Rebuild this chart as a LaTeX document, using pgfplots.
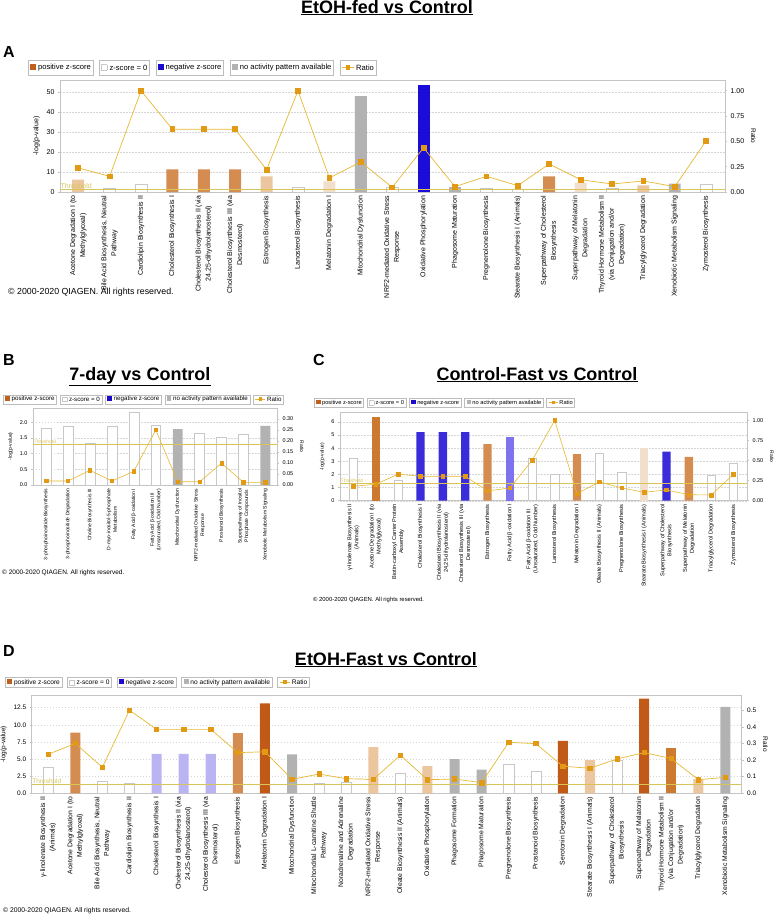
\documentclass[border=0pt]{standalone}
\usepackage{pgfplots}
\pgfplotsset{compat=1.18}
\usepackage{fontspec}
\setmainfont{Liberation Sans}

\definecolor{framec}{HTML}{C4C4C4}
\definecolor{gridc}{HTML}{D6D6D6}
\definecolor{whitebd}{HTML}{C8C8C8}
\definecolor{legbd}{HTML}{BDBDBD}
\definecolor{legpos}{HTML}{C0601E}
\definecolor{legneg}{HTML}{1A0ACC}
\definecolor{posdk}{HTML}{C25A17}
\definecolor{posor}{HTML}{CC7A30}
\definecolor{posmd}{HTML}{D48C50}
\definecolor{poslt}{HTML}{EBC69F}
\definecolor{posvl}{HTML}{F2DFCB}
\definecolor{negdk}{HTML}{1B0CD8}
\definecolor{negmd}{HTML}{3B2CD9}
\definecolor{neglt}{HTML}{7E72EE}
\definecolor{negvl}{HTML}{BAB4F2}
\definecolor{nagray}{HTML}{B2B2B2}
\definecolor{ratioln}{HTML}{E6B832}
\definecolor{ratiomk}{HTML}{E29A14}
\definecolor{thrc}{HTML}{D9C45A}

\setlength{\fboxsep}{0pt}
\setlength{\fboxrule}{0.4pt}

\pgfplotsset{
  ipa common/.style={scale only axis, anchor=south west, ymin=0,
    axis line style={framec, line width=0.5pt},
    tick style={framec, line width=0.5pt}, tick align=outside, major tick length=2pt,
    /pgf/number format/assume math mode=true},
  ipa bars/.style={ipa common, ytick pos=left, xtick pos=bottom,
    xtick style={draw=none},
    ymajorgrids, grid style={gridc, dash pattern=on 1.5pt off 1.5pt, line width=0.4pt},
    xticklabel style={rotate=90, anchor=east, align=center, inner sep=1.5pt},
    ylabel={-log(p-value)}},
  ipa ratio/.style={ipa common, axis x line=none, axis y line*=right,
    ylabel={Ratio}, ylabel style={rotate=180}},
  wbar/.style={ybar, /pgf/bar shift=0pt, fill=white, draw=whitebd, line width=0.5pt},
  cbar/.style={ybar, /pgf/bar shift=0pt, fill=#1, draw=none},
  rline/.style={ratioln, line width=0.7pt, mark=square*, mark size=#1,
    mark options={fill=ratiomk, draw=ratiomk}},
  thr/.style={thrc, line width=0.6pt, forget plot},
}

% legend row: x, y (down), font size, gap, box height
\newcommand{\qlegend}[5]{%
\begin{scope}[every node/.style={draw=legbd, fill=white, line width=0.5pt,
    inner xsep=2pt, inner ysep=0pt, minimum height=#5pt, anchor=west,
    font=\fontsize{#3}{#3}\selectfont}]
\node (L1) at (#1pt,-#2pt) {\textcolor{legpos}{\rule{0.75em}{0.75em}} positive z-score};
\node (L2) at ([xshift=#4pt]L1.east) {\fcolorbox{whitebd}{white}{\rule{0pt}{0.7em}\rule{0.7em}{0pt}} z-score = 0};
\node (L3) at ([xshift=#4pt]L2.east) {\textcolor{legneg}{\rule{0.75em}{0.75em}} negative z-score};
\node (L4) at ([xshift=#4pt]L3.east) {\textcolor{nagray}{\rule{0.75em}{0.75em}} no activity pattern available};
\node (L5) at ([xshift=#4pt]L4.east) {\textcolor{ratioln}{\rule[0.3em]{0.5em}{0.6pt}}\textcolor{ratiomk}{\rule[0.05em]{0.6em}{0.6em}}\textcolor{ratioln}{\rule[0.3em]{0.5em}{0.6pt}} Ratio};
\end{scope}}

\newcommand{\ptitle}[3]{\node[anchor=base, font=\fontsize{18}{20}\selectfont\bfseries] at (#1pt,-#2pt) {\underline{#3}};}
\newcommand{\pletter}[3]{\node[anchor=base west, inner sep=0pt, font=\fontsize{16}{18}\selectfont\bfseries] at (#1pt,-#2pt) {#3};}
\newcommand{\qcopy}[3]{\node[anchor=base west, inner sep=0pt, font=\fontsize{#3}{#3}\selectfont] at (#1pt,-#2pt) {© 2000-2020 QIAGEN. All rights reserved.};}

\begin{document}
\begin{tikzpicture}
\path[use as bounding box] (0,0) rectangle (774pt,-916pt);

% ---------------- Panel A ----------------
\ptitle{387}{13}{EtOH-fed vs Control}
\pletter{3}{57}{A}
\qlegend{28}{67.5}{7.6}{6}{15}

\begin{axis}[ipa bars, at={(60pt,-192pt)}, width=665pt, height=112pt,
  xmin=-0.58, xmax=20.6, ymax=56, ytick={0,10,20,30,40,50}, bar width=0.38,
  yticklabel style={font=\fontsize{7}{8}\selectfont},
  ylabel style={font=\fontsize{7}{8}\selectfont},
  xtick={0,...,20},
  xticklabel style={font=\fontsize{7}{10}\selectfont},
  xticklabels={{Acetone Degradation I (to\\Methylglyoxal)},
    {Bile Acid Biosynthesis, Neutral\\Pathway},
    {Cardiolipin Biosynthesis II},
    {Cholesterol Biosynthesis I},
    {Cholesterol Biosynthesis II (via\\24,25-dihydrolanosterol)},
    {Cholesterol Biosynthesis III (via\\Desmosterol)},
    {Estrogen Biosynthesis},
    {Lanosterol Biosynthesis},
    {Melatonin Degradation I},
    {Mitochondrial Dysfunction},
    {NRF2-mediated Oxidative Stress\\Response},
    {Oxidative Phosphorylation},
    {Phagosome Maturation},
    {Pregnenolone Biosynthesis},
    {Stearate Biosynthesis I (Animals)},
    {Superpathway of Cholesterol\\Biosynthesis},
    {Superpathway of Melatonin\\Degradation},
    {Thyroid Hormone Metabolism II\\(via Conjugation and/or\\Degradation)},
    {Triacylglycerol Degradation},
    {Xenobiotic Metabolism Signaling},
    {Zymosterol Biosynthesis}}]
  \addplot[wbar] coordinates {(1,1.7) (2,3.7) (7,2.3) (10,2.5) (13,1.7) (14,1.2) (17,2.0) (20,4.0)};
  \addplot[cbar=posvl] coordinates {(8,5.3) (16,4.7)};
  \addplot[cbar=poslt] coordinates {(0,6.2) (6,7.8) (18,3.3)};
  \addplot[cbar=posmd] coordinates {(3,11.3) (4,11.3) (5,11.3) (15,7.8)};
  \addplot[cbar=nagray] coordinates {(9,48) (12,2.5) (19,4.2)};
  \addplot[cbar=negdk] coordinates {(11,53.3)};
  \addplot[thr] coordinates {(-1,1.3) (30,1.3)};
  \node[anchor=south west, inner sep=0.5pt, text=thrc, font=\fontsize{7}{8}\selectfont] at (axis cs:-0.58,1.3) {Threshold};
\end{axis}
\begin{axis}[ipa ratio, at={(60pt,-192pt)}, width=665pt, height=112pt,
  xmin=-0.58, xmax=20.6, ymax=1.106, ytick={0,0.25,0.5,0.75,1},
  yticklabel style={font=\fontsize{7}{8}\selectfont, /pgf/number format/fixed,
    /pgf/number format/fixed zerofill, /pgf/number format/precision=2},
  ylabel style={font=\fontsize{6.5}{8}\selectfont}]
  \addplot[rline=2.4pt] coordinates {(0,0.238) (1,0.155) (2,1.0) (3,0.62) (4,0.62) (5,0.62)
    (6,0.22) (7,1.0) (8,0.139) (9,0.297) (10,0.046) (11,0.436) (12,0.053) (13,0.155)
    (14,0.063) (15,0.277) (16,0.122) (17,0.079) (18,0.109) (19,0.053) (20,0.505)};
\end{axis}
\qcopy{8}{294}{8.8}

% ---------------- Panel B ----------------
\ptitle{140}{380}{7-day vs Control}
\pletter{3}{365}{B}
\qlegend{3}{399.3}{6.2}{3}{9}

\begin{axis}[ipa bars, at={(33pt,-485pt)}, width=244pt, height=77pt,
  xmin=-0.6, xmax=10.53, ymax=2.45, ytick={0,0.5,1,1.5,2}, bar width=0.45,
  yticklabel style={font=\fontsize{5.5}{6}\selectfont, /pgf/number format/fixed,
    /pgf/number format/fixed zerofill, /pgf/number format/precision=1},
  ylabel style={font=\fontsize{5}{6}\selectfont},
  xtick={0,...,10},
  xticklabel style={font=\fontsize{5}{6.5}\selectfont},
  xticklabels={{3-phosphoinositide Biosynthesis},
    {3-phosphoinositide Degradation},
    {Choline Biosynthesis III},
    {D-myo-inositol-5-phosphate\\Metabolism},
    {Fatty Acid β-oxidation I},
    {Fatty Acid β-oxidation III\\(Unsaturated, Odd Number)},
    {Mitochondrial Dysfunction},
    {NRF2-mediated Oxidative Stress\\Response},
    {Prostanoid Biosynthesis},
    {Superpathway of Inositol\\Phosphate Compounds},
    {Xenobiotic Metabolism Signaling}}]
  \addplot[wbar] coordinates {(0,1.81) (1,1.87) (2,1.33) (3,1.87) (4,2.33) (5,1.9) (7,1.66) (8,1.51) (9,1.62)};
  \addplot[cbar=nagray] coordinates {(6,1.78) (10,1.88)};
  \addplot[thr] coordinates {(-1,1.3) (30,1.3)};
  \node[anchor=south west, inner sep=0.5pt, text=thrc, font=\fontsize{5}{6}\selectfont] at (axis cs:-0.6,1.3) {Threshold};
\end{axis}
\begin{axis}[ipa ratio, at={(33pt,-485pt)}, width=244pt, height=77pt,
  xmin=-0.6, xmax=10.53, ymax=0.35, ytick={0,0.05,0.1,0.15,0.2,0.25,0.3},
  yticklabel style={font=\fontsize{5.5}{6}\selectfont, /pgf/number format/fixed,
    /pgf/number format/fixed zerofill, /pgf/number format/precision=2},
  ylabel style={font=\fontsize{5}{6}\selectfont}]
  \addplot[rline=1.7pt, line width=0.6pt] coordinates {(0,0.018) (1,0.018) (2,0.067) (3,0.018)
    (4,0.0625) (5,0.25) (6,0.015) (7,0.015) (8,0.099) (9,0.012) (10,0.012)};
\end{axis}
\qcopy{2}{574}{6.5}

% ---------------- Panel C ----------------
\ptitle{537}{380}{Control-Fast vs Control}
\pletter{313}{365}{C}
\qlegend{314}{402.7}{5.7}{3}{9}

\begin{axis}[ipa bars, at={(340pt,-500.7pt)}, width=407pt, height=88pt,
  xmin=-0.6, xmax=17.6, ymax=6.7, ytick={0,1,2,3,4,5,6}, bar width=0.37,
  yticklabel style={font=\fontsize{5.5}{6}\selectfont},
  ylabel style={font=\fontsize{5}{6}\selectfont},
  xtick={0,...,17},
  xticklabel style={font=\fontsize{5.6}{7}\selectfont},
  xticklabels={{γ-linolenate Biosynthesis II\\(Animals)},
    {Acetone Degradation I (to\\Methylglyoxal)},
    {Biotin-carboxyl Carrier Protein\\Assembly},
    {Cholesterol Biosynthesis I},
    {Cholesterol Biosynthesis II (via\\24,25-dihydrolanosterol)},
    {Cholesterol Biosynthesis III (via\\Desmosterol)},
    {Estrogen Biosynthesis},
    {Fatty Acid β-oxidation I},
    {Fatty Acid β-oxidation III\\(Unsaturated, Odd Number)},
    {Lanosterol Biosynthesis},
    {Melatonin Degradation I},
    {Oleate Biosynthesis II (Animals)},
    {Pregnenolone Biosynthesis},
    {Stearate Biosynthesis I (Animals)},
    {Superpathway of Cholesterol\\Biosynthesis},
    {Superpathway of Melatonin\\Degradation},
    {Triacylglycerol Degradation},
    {Zymosterol Biosynthesis}}]
  \addplot[wbar] coordinates {(0,3.26) (2,1.56) (8,3.26) (9,2.03) (11,3.64) (12,2.15) (16,1.95) (17,2.87)};
  \addplot[cbar=posor] coordinates {(1,6.38)};
  \addplot[cbar=posmd] coordinates {(6,4.31) (10,3.54) (15,3.33)};
  \addplot[cbar=posvl] coordinates {(13,4.03)};
  \addplot[cbar=negmd] coordinates {(3,5.23) (4,5.23) (5,5.23) (14,3.74)};
  \addplot[cbar=neglt] coordinates {(7,4.87)};
  \addplot[thr] coordinates {(-1,1.3) (30,1.3)};
  \node[anchor=south west, inner sep=0.5pt, text=thrc, font=\fontsize{5}{6}\selectfont] at (axis cs:-0.6,1.3) {Threshold};
\end{axis}
\begin{axis}[ipa ratio, at={(340pt,-500.7pt)}, width=407pt, height=88pt,
  xmin=-0.6, xmax=17.6, ymax=1.096, ytick={0,0.25,0.5,0.75,1},
  yticklabel style={font=\fontsize{5.5}{6}\selectfont, /pgf/number format/fixed,
    /pgf/number format/fixed zerofill, /pgf/number format/precision=2},
  ylabel style={font=\fontsize{5}{6}\selectfont}]
  \addplot[rline=1.8pt, line width=0.6pt] coordinates {(0,0.18) (1,0.205) (2,0.33) (3,0.305)
    (4,0.305) (5,0.305) (6,0.121) (7,0.159) (8,0.506) (9,1.0) (10,0.088) (11,0.234)
    (12,0.159) (13,0.105) (14,0.134) (15,0.075) (16,0.071) (17,0.33)};
\end{axis}
\qcopy{313}{601}{5.9}

% ---------------- Panel D ----------------
\ptitle{386}{665}{EtOH-Fast vs Control}
\pletter{3}{656}{D}
\qlegend{5}{682.3}{6.6}{5}{10}

\begin{axis}[ipa bars, at={(31.7pt,-793.3pt)}, width=710pt, height=98pt,
  xmin=-0.61, xmax=25.6, ymax=14.3, ytick={0,2.5,5,7.5,10,12.5}, bar width=0.37,
  yticklabel style={font=\fontsize{6.5}{7}\selectfont, /pgf/number format/fixed,
    /pgf/number format/fixed zerofill, /pgf/number format/precision=1},
  ylabel style={font=\fontsize{6.5}{7}\selectfont},
  xtick={0,...,25},
  xticklabel style={font=\fontsize{6.8}{9.5}\selectfont},
  xticklabels={{γ-linolenate Biosynthesis II\\(Animals)},
    {Acetone Degradation I (to\\Methylglyoxal)},
    {Bile Acid Biosynthesis, Neutral\\Pathway},
    {Cardiolipin Biosynthesis II},
    {Cholesterol Biosynthesis I},
    {Cholesterol Biosynthesis II (via\\24,25-dihydrolanosterol)},
    {Cholesterol Biosynthesis III (via\\Desmosterol)},
    {Estrogen Biosynthesis},
    {Melatonin Degradation I},
    {Mitochondrial Dysfunction},
    {Mitochondrial L-carnitine Shuttle\\Pathway},
    {Noradrenaline and Adrenaline\\Degradation},
    {NRF2-mediated Oxidative Stress\\Response},
    {Oleate Biosynthesis II (Animals)},
    {Oxidative Phosphorylation},
    {Phagosome Formation},
    {Phagosome Maturation},
    {Pregnenolone Biosynthesis},
    {Prostanoid Biosynthesis},
    {Serotonin Degradation},
    {Stearate Biosynthesis I (Animals)},
    {Superpathway of Cholesterol\\Biosynthesis},
    {Superpathway of Melatonin\\Degradation},
    {Thyroid Hormone Metabolism II\\(via Conjugation and/or\\Degradation)},
    {Triacylglycerol Degradation},
    {Xenobiotic Metabolism Signaling}}]
  \addplot[wbar] coordinates {(0,3.78) (2,1.74) (3,1.5) (10,1.5) (11,1.6) (13,2.9) (17,4.26) (18,3.25) (21,4.85)};
  \addplot[cbar=posmd] coordinates {(1,8.87) (7,8.77)};
  \addplot[cbar=posdk] coordinates {(8,13.13) (19,7.66) (22,13.8)};
  \addplot[cbar=posor] coordinates {(23,6.54)};
  \addplot[cbar=poslt] coordinates {(12,6.73) (14,3.97) (20,4.85) (24,2.08)};
  \addplot[cbar=negvl] coordinates {(4,5.77) (5,5.77) (6,5.77)};
  \addplot[cbar=nagray] coordinates {(9,5.67) (15,4.99) (16,3.44) (25,12.6)};
  \addplot[thr] coordinates {(-1,1.3) (30,1.3)};
  \node[anchor=south west, inner sep=0.5pt, text=thrc, font=\fontsize{6.5}{7}\selectfont] at (axis cs:-0.61,1.3) {Threshold};
\end{axis}
\begin{axis}[ipa ratio, at={(31.7pt,-793.3pt)}, width=710pt, height=98pt,
  xmin=-0.61, xmax=25.6, ymax=0.59, ytick={0,0.1,0.2,0.3,0.4,0.5},
  yticklabel style={font=\fontsize{6.5}{7}\selectfont, /pgf/number format/fixed,
    /pgf/number format/fixed zerofill, /pgf/number format/precision=1},
  ylabel style={font=\fontsize{6.5}{7}\selectfont}]
  \addplot[rline=2.2pt] coordinates {(0,0.235) (1,0.30) (2,0.157) (3,0.5) (4,0.385) (5,0.385)
    (6,0.385) (7,0.245) (8,0.25) (9,0.084) (10,0.116) (11,0.088) (12,0.084) (13,0.229)
    (14,0.082) (15,0.086) (16,0.064) (17,0.307) (18,0.299) (19,0.163) (20,0.151)
    (21,0.207) (22,0.245) (23,0.209) (24,0.082) (25,0.096)};
\end{axis}
\qcopy{3}{912}{6.8}
\end{tikzpicture}
\end{document}
